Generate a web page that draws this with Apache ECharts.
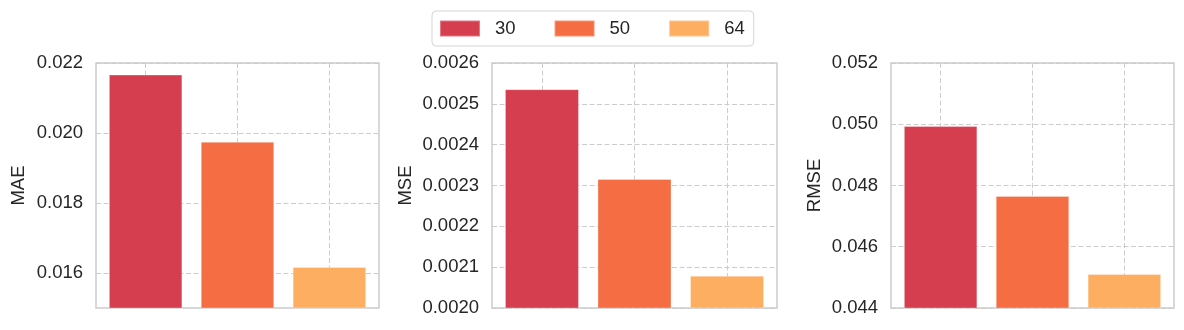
<!DOCTYPE html>
<html>
<head>
<meta charset="utf-8">
<script src="https://cdn.jsdelivr.net/npm/echarts@6/dist/echarts.min.js"></script>
<style>
  html, body { margin: 0; padding: 0; background: #fff; }
  #chart { width: 1184px; height: 330px; }
</style>
</head>
<body>
<div id="chart"></div>
<script>
// window sizes (legend names) and their bar positions
const windowSizes = ['30', '50', '64'];
const barPositions = [0, 1, 2];
const barColors = ['#d53e4f', '#f46d43', '#fdae61'];

// metric values per window size
const maeValues = [0.02167, 0.01975, 0.01617];
const mseValues = [0.002536, 0.002316, 0.002079];
const rmseValues = [0.04994, 0.04766, 0.04511];

// y tick labels
const maeTicks = [0.016, 0.018, 0.020, 0.022];
const mseTicks = [0.0020, 0.0021, 0.0022, 0.0023, 0.0024, 0.0025, 0.0026];
const rmseTicks = [0.044, 0.046, 0.048, 0.050, 0.052];

const textColor = '#262626';
const fontFamily = 'Arial, "Liberation Sans", sans-serif';

const panels = [
  { name: 'MAE', values: maeValues, ticks: maeTicks, min: 0.015, max: 0.022, digits: 3, left: 96, width: 283, nameGap: 68 },
  { name: 'MSE', values: mseValues, ticks: mseTicks, min: 0.0020, max: 0.0026, digits: 4, left: 492, width: 285, nameGap: 77 },
  { name: 'RMSE', values: rmseValues, ticks: rmseTicks, min: 0.044, max: 0.052, digits: 3, left: 891, width: 283, nameGap: 67 }
];

const gridLine = { show: true, lineStyle: { color: '#cccccc', width: 1, type: [5, 2.5] } };

const grids = [], xAxes = [], yAxes = [], series = [];

panels.forEach(function (p, i) {
  grids.push({
    left: p.left, top: 63, width: p.width, height: 245,
    show: true, borderColor: '#cccccc', borderWidth: 1.5, backgroundColor: '#fff'
  });
  xAxes.push({
    type: 'value', gridIndex: i, min: -0.54, max: 2.54,
    axisLine: { show: false },
    axisTick: { show: false, customValues: barPositions },
    axisLabel: { show: false, customValues: barPositions },
    splitLine: gridLine
  });
  yAxes.push({
    type: 'value', gridIndex: i, min: p.min, max: p.max,
    name: p.name, nameLocation: 'middle', nameGap: p.nameGap, nameRotate: 90,
    nameTextStyle: { color: textColor, fontSize: 18.5, fontFamily: fontFamily },
    axisLine: { show: false },
    axisTick: { show: false, customValues: p.ticks },
    axisLabel: {
      customValues: p.ticks, margin: 13, color: textColor, fontSize: 18.5, fontFamily: fontFamily,
      formatter: function (v) { return Number(v).toFixed(p.digits); }
    },
    splitLine: gridLine
  });
  // bar width = 0.8 data units on the x axis
  const barPx = 0.8 * p.width / 3.08;
  windowSizes.forEach(function (w, k) {
    series.push({
      type: 'bar', name: w, xAxisIndex: i, yAxisIndex: i,
      data: [[barPositions[k], p.values[k]]],
      barWidth: barPx, barGap: '-100%',
      itemStyle: { color: barColors[k], borderColor: 'rgba(255,255,255,0.3)', borderWidth: 1 },
      silent: true, animation: false
    });
  });
});

const chart = echarts.init(document.getElementById('chart'), null, { renderer: 'canvas' });
chart.setOption({
  backgroundColor: '#fff',
  animation: false,
  legend: {
    data: windowSizes, left: 432, top: 11,
    padding: [8, 9, 8, 7], itemWidth: 40, itemHeight: 16, itemGap: 38,
    icon: 'rect', borderColor: '#d5d5d5', borderWidth: 1, borderRadius: 4,
    textStyle: { color: textColor, fontSize: 18.5, fontFamily: fontFamily, padding: [0, 0, 0, 10] }
  },
  grid: grids,
  xAxis: xAxes,
  yAxis: yAxes,
  series: series
});
</script>
</body>
</html>
